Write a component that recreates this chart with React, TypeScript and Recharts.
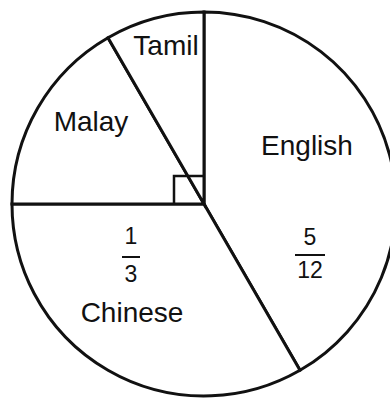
import { PieChart, Pie } from "recharts"

// share of pupils by home language (twelfths)
const languages = ["English", "Chinese", "Malay", "Tamil"]
const twelfths = [5, 4, 2, 1]
// slices that carry a fraction label
const fractionShown = ["English", "Chinese"]

const INK = "#111111"
const FONT = "'Liberation Sans', Arial, sans-serif"

// label placement relative to the pie centre
const labelPos: Record<string, { x: number; y: number; fx?: number; num?: number; bar?: number; den?: number; half?: number }> = {
  English: { x: 103, y: -49, fx: 106, num: 41, bar: 51, den: 74, half: 15 },
  Chinese: { x: -72, y: 118, fx: -73, num: 40, bar: 53, den: 78, half: 9 },
  Malay: { x: -113, y: -73 },
  Tamil: { x: -38, y: -149 },
}

const gcd = (a: number, b: number): number => (b === 0 ? a : gcd(b, a % b))

const total = twelfths.reduce((s, v) => s + v, 0)
const data = languages.map((name, i) => ({ name, value: twelfths[i] }))

function renderLabel(props: any) {
  const { cx, cy, name, value } = props
  const p = labelPos[name]
  if (!p) return null
  const g = gcd(value, total)
  return (
    <g>
      <text x={cx + p.x} y={cy + p.y} textAnchor="middle" fontSize={28} fontFamily={FONT} fill={INK}>
        {name}
      </text>
      {fractionShown.includes(name) && (
        <g>
          <text x={cx + p.fx!} y={cy + p.num!} textAnchor="middle" fontSize={23} fontFamily={FONT} fill={INK}>
            {value / g}
          </text>
          <line
            x1={cx + p.fx! - p.half!}
            x2={cx + p.fx! + p.half!}
            y1={cy + p.bar!}
            y2={cy + p.bar!}
            stroke={INK}
            strokeWidth={2}
          />
          <text x={cx + p.fx!} y={cy + p.den!} textAnchor="middle" fontSize={23} fontFamily={FONT} fill={INK}>
            {total / g}
          </text>
        </g>
      )}
      {name === "Malay" && (
        // right-angle marker where Malay + Tamil meet at the centre
        <path
          d={`M${cx - 30},${cy} L${cx - 30},${cy - 28} L${cx},${cy - 28}`}
          fill="none"
          stroke={INK}
          strokeWidth={2.5}
        />
      )}
    </g>
  )
}

export default function App() {
  return (
    <div style={{ position: "absolute", left: 0, top: 0, width: 390, height: 400, background: "#fff" }}>
      <PieChart width={390} height={400} margin={{ top: 0, right: 0, bottom: 0, left: 0 }}>
        <Pie
          data={data}
          dataKey="value"
          nameKey="name"
          cx={204}
          cy={204}
          innerRadius={0}
          outerRadius={192}
          startAngle={90}
          endAngle={-270}
          fill="#ffffff"
          stroke={INK}
          strokeWidth={3}
          label={renderLabel}
          labelLine={false}
          isAnimationActive={false}
        />
      </PieChart>
    </div>
  )
}
